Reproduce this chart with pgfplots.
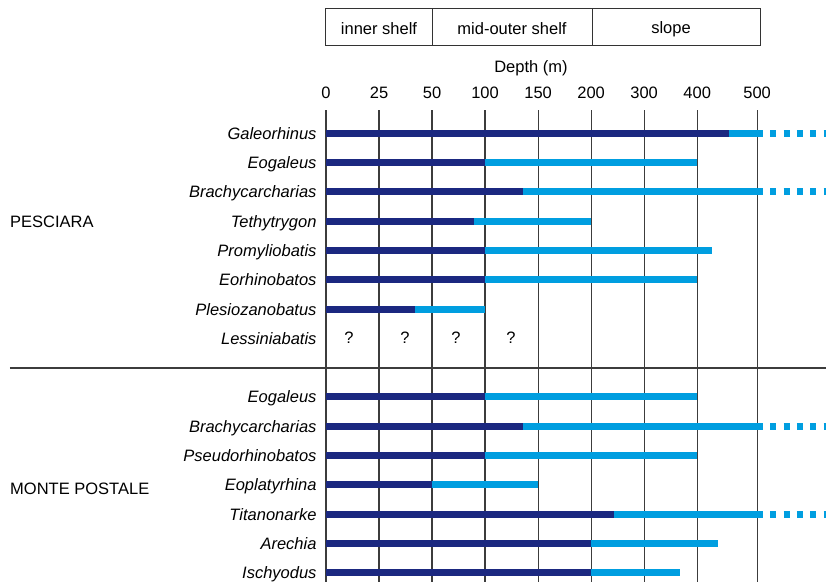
\documentclass[border=0pt]{standalone}
\usepackage{pgfplots}
\pgfplotsset{compat=1.18}
\usepackage{fontspec}
\setmainfont{Liberation Sans}
\definecolor{darkbar}{RGB}{27,40,128}
\definecolor{lightbar}{RGB}{0,158,224}
\definecolor{gridc}{RGB}{60,60,60}
\newcommand{\fs}{\fontsize{16.5bp}{20bp}\selectfont}
\begin{document}
\begin{tikzpicture}[x=1bp,y=1bp,font=\fs]
\useasboundingbox (-326,0) rectangle (500,582);
\begin{axis}[
  at={(0,0)}, anchor=south west,
  width=500bp, height=472bp, scale only axis,
  xmin=0, xmax=615, ymin=-0.32, ymax=15.8,
  x coord trafo/.code={\pgfmathparse{min(#1,50)/25+(min(max(#1,50),200)-50)/50+(min(max(#1,200),400)-200)/100+1.13*(max(#1,400)-400)/100}},
  xtick={0,25,50,100,150,200,300,400,500},
  xticklabels={0,25,50,100,150,200,300,400,500},
  xticklabel pos=upper,
  xmajorgrids, grid style={gridc, line width=1.2bp},
  ytick={0,1,2,3,4,5,6,8,9,10,11,12,13,14,15},
  yticklabels={Ischyodus,Arechia,Titanonarke,Eoplatyrhina,Pseudorhinobatos,Brachycarcharias,Eogaleus,Lessiniabatis,Plesiozanobatus,Eorhinobatos,Promyliobatis,Tethytrygon,Brachycarcharias,Eogaleus,Galeorhinus},
  yticklabel style={font=\fs\itshape, text height=13.5bp, text depth=1.5bp, xshift=-6bp},
  xticklabel style={font=\fs, yshift=8bp},
  axis line style={draw=none},
  major tick length=0pt,
  clip=false,
  /pgf/number format/assume math mode=true,
  dk/.style={darkbar, line width=7bp},
  lt/.style={lightbar, line width=7bp},
  ds/.style={lightbar, line width=7bp, dash pattern=on 6bp off 7.3bp, dash phase=6bp},
]
% PESCIARA
\addplot[dk] coordinates {(0,15) (453,15)};
\addplot[lt] coordinates {(453,15) (510,15)};
\addplot[ds] coordinates {(510,15) (615,15)};
\addplot[dk] coordinates {(0,14) (100,14)};
\addplot[lt] coordinates {(100,14) (400,14)};
\addplot[dk] coordinates {(0,13) (136,13)};
\addplot[lt] coordinates {(136,13) (510,13)};
\addplot[ds] coordinates {(510,13) (615,13)};
\addplot[dk] coordinates {(0,12) (90,12)};
\addplot[lt] coordinates {(90,12) (200,12)};
\addplot[dk] coordinates {(0,11) (100,11)};
\addplot[lt] coordinates {(100,11) (425,11)};
\addplot[dk] coordinates {(0,10) (100,10)};
\addplot[lt] coordinates {(100,10) (400,10)};
\addplot[dk] coordinates {(0,9) (42,9)};
\addplot[lt] coordinates {(42,9) (100,9)};
% MONTE POSTALE
\addplot[dk] coordinates {(0,6) (100,6)};
\addplot[lt] coordinates {(100,6) (400,6)};
\addplot[dk] coordinates {(0,5) (136,5)};
\addplot[lt] coordinates {(136,5) (510,5)};
\addplot[ds] coordinates {(510,5) (615,5)};
\addplot[dk] coordinates {(0,4) (100,4)};
\addplot[lt] coordinates {(100,4) (400,4)};
\addplot[dk] coordinates {(0,3) (50,3)};
\addplot[lt] coordinates {(50,3) (150,3)};
\addplot[dk] coordinates {(0,2) (244,2)};
\addplot[lt] coordinates {(244,2) (510,2)};
\addplot[ds] coordinates {(510,2) (615,2)};
\addplot[dk] coordinates {(0,1) (200,1)};
\addplot[lt] coordinates {(200,1) (435,1)};
\addplot[dk] coordinates {(0,0) (200,0)};
\addplot[lt] coordinates {(200,0) (367,0)};
\end{axis}
% Lessiniabatis question marks
\foreach \qx in {23,79,130,185} \node at (\qx,244) {?};
% separator
\draw[gridc, line width=1.2bp] (-316,214) -- (500,214);
% group labels
\node[anchor=west, inner sep=0pt] at (-316,360) {PESCIARA};
\node[anchor=west, inner sep=0pt] at (-316,93) {MONTE POSTALE};
% depth label
\node at (205,514) {Depth (m)};
% zone box
\draw[black!80, line width=1bp] (0,536) rectangle (434,573);
\draw[black!80, line width=1bp] (106,536) -- (106,573);
\draw[black!80, line width=1bp] (266,536) -- (266,573);
\node at (53,553) {inner shelf};
\node at (186,553) {mid-outer shelf};
\node at (345,553) {slope};
\end{tikzpicture}
\end{document}
